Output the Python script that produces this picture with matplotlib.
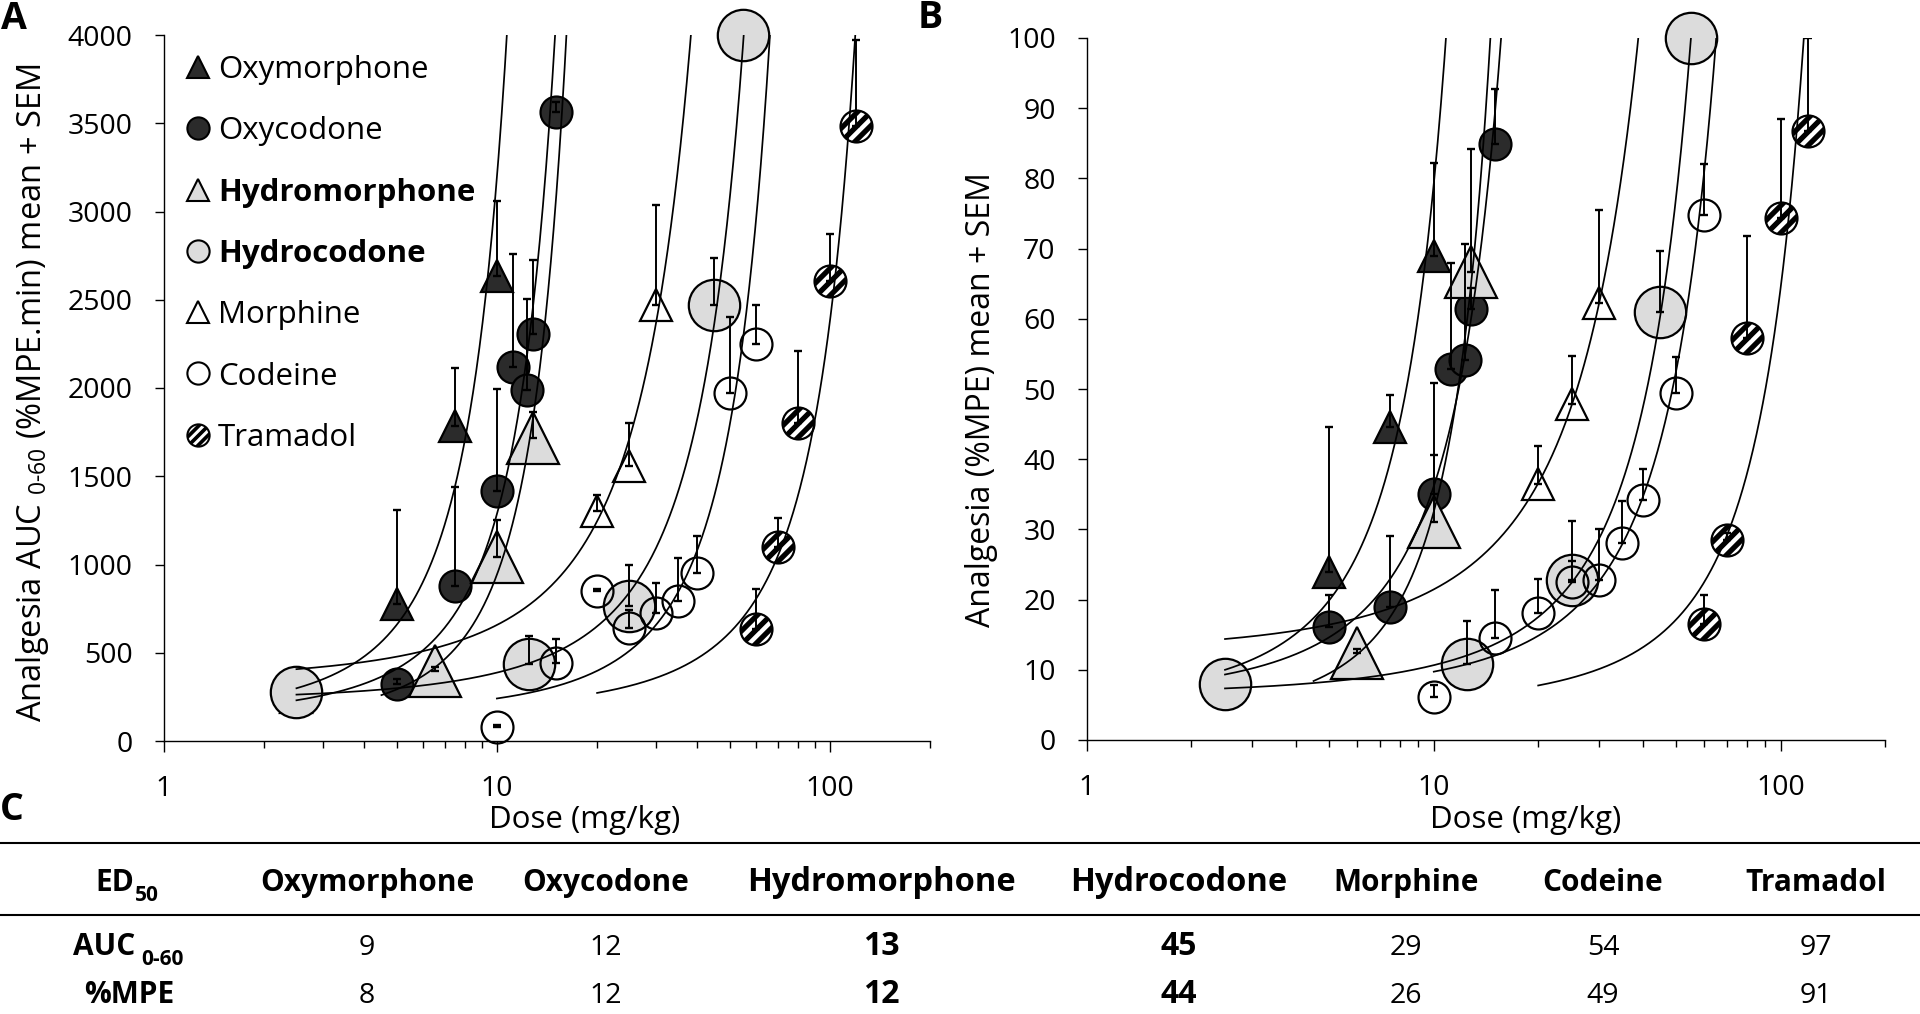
import numpy as np
import matplotlib
matplotlib.use("Agg")
import matplotlib.pyplot as plt
from matplotlib.lines import Line2D
from matplotlib.path import Path
from matplotlib.ticker import FixedLocator, FuncFormatter, NullFormatter, MultipleLocator

plt.rcParams['font.family'] = ['Open Sans', 'DejaVu Sans']
plt.rcParams['mathtext.fontset'] = 'custom'
plt.rcParams['mathtext.rm'] = 'Open Sans'
plt.rcParams['mathtext.it'] = 'Open Sans:italic'
plt.rcParams['mathtext.bf'] = 'Open Sans:bold'

W, H = 1920, 1014
fig = plt.figure(figsize=(W / 100, H / 100), dpi=100)


def fx(px):
    return px / W


def fy(py):
    return 1 - py / H


# ---------------- data ----------------
drugs = ['Oxymorphone', 'Oxycodone', 'Hydromorphone', 'Hydrocodone',
         'Morphine', 'Codeine', 'Tramadol']

oxymorphone_dose = [2.5, 5, 7.5, 10]
oxymorphone_auc = [250, 775, 1785, 2632]
oxymorphone_auc_sem = [0, 535, 330, 425]
oxymorphone_mpe = [8.5, 24.0, 44.6, 69.0]
oxymorphone_mpe_sem = [0, 20.6, 4.5, 13.2]

oxycodone_dose = [5, 7.5, 10, 11.2, 12.3, 12.8, 15]
oxycodone_auc = [321, 879, 1418, 2118, 1986, 2306, 3562]
oxycodone_auc_sem = [30, 558, 575, 641, 519, 418, 60]
oxycodone_mpe = [16.1, 19.0, 35.1, 52.8, 54.2, 61.4, 84.9]
oxycodone_mpe_sem = [4.5, 10.0, 15.7, 15.1, 16.4, 3.0, 7.8]

hydromorphone_dose_auc = [6.5, 10, 12.8]
hydromorphone_auc = [397, 1042, 1715]
hydromorphone_auc_sem = [20, 210, 150]
hydromorphone_dose_mpe = [6.0, 10, 12.8]
hydromorphone_mpe = [12.4, 31.0, 66.7]
hydromorphone_mpe_sem = [0.5, 9.6, 17.5]

hydrocodone_dose = [2.5, 12.5, 25, 45, 55]
hydrocodone_auc = [278, 435, 766, 2472, 4000]
hydrocodone_auc_sem = [0, 161, 231, 264, 0]
hydrocodone_mpe = [7.95, 10.8, 22.8, 61.0, 100]
hydrocodone_mpe_sem = [0, 6.2, 8.4, 8.6, 0]

morphine_dose = [20, 25, 30]
morphine_auc = [1305, 1560, 2472]
morphine_auc_sem = [90, 240, 563]
morphine_mpe = [36.5, 47.9, 62.2]
morphine_mpe_sem = [5.4, 6.8, 13.3]

codeine_dose = [10, 15, 20, 25, 30, 35, 40, 50, 60]
codeine_auc = [81, 441, 851, 643, 728, 792, 951, 1972, 2250]
codeine_auc_sem = [10, 136, 10, 100, 170, 243, 209, 430, 222]
codeine_mpe = [6.1, 14.6, 18.1, 22.5, 22.8, 28.0, 34.2, 49.5, 74.8]
codeine_mpe_sem = [1.7, 6.8, 4.8, 3.0, 7.2, 6.0, 4.4, 5.1, 7.3]

tramadol_dose = [60, 70, 80, 100, 120]
tramadol_auc = [632, 1097, 1799, 2604, 3486]
tramadol_auc_sem = [229, 167, 409, 266, 484]
tramadol_mpe = [16.5, 28.5, 57.2, 74.4, 86.8]
tramadol_mpe_sem = [4.1, 1.0, 14.6, 14.1, 13.2]

# dose where each fitted exponential trendline begins
trend_start = [2.5, 2.5, 4.5, 2.5, 2.5, 10, 20]

# table C
ed50_auc = [9, 12, 13, 45, 29, 54, 97]
ed50_mpe = [8, 12, 12, 44, 26, 49, 91]
highlight = [False, False, True, True, False, False, False]


# ---------------- styles ----------------
def stripe_path(centers=(-0.62, 0.0, 0.62), half=0.17, n=40):
    """Diagonal '/' stripes inside a unit circle, as a marker path."""
    verts, codes = [], []
    for c in centers:
        us = np.linspace(max(c - half, -0.999), min(c + half, 0.999), n)
        vs = np.sqrt(1 - us ** 2)
        pu = np.concatenate([us, us[::-1]])
        pv = np.concatenate([vs, -vs[::-1]])
        xs = (pu + pv) / np.sqrt(2)
        ys = (pv - pu) / np.sqrt(2)
        pts = list(zip(xs, ys))
        verts += pts + [pts[0]]
        codes += [Path.MOVETO] + [Path.LINETO] * (len(pts) - 1) + [Path.CLOSEPOLY]
    for p in [(1, 0), (-1, 0), (0, 1), (0, -1)]:  # fix normalisation extent
        verts += [p, p]
        codes += [Path.MOVETO, Path.LINETO]
    return Path(verts, codes)


STRIPES = stripe_path()
DARK = '#2b2b2b'
LIGHT = '#dcdcdc'
styles = [
    dict(marker='^', ms=23, mfc=DARK),
    dict(marker='o', ms=23, mfc=DARK),
    dict(marker='^', ms=37, mfc=LIGHT),
    dict(marker='o', ms=37, mfc=LIGHT),
    dict(marker='^', ms=23, mfc='none'),
    dict(marker='o', ms=23, mfc='none'),
    dict(marker='o', ms=23, mfc='white', stripes=True),
]

auc_series = [
    (oxymorphone_dose, oxymorphone_auc, oxymorphone_auc_sem),
    (oxycodone_dose, oxycodone_auc, oxycodone_auc_sem),
    (hydromorphone_dose_auc, hydromorphone_auc, hydromorphone_auc_sem),
    (hydrocodone_dose, hydrocodone_auc, hydrocodone_auc_sem),
    (morphine_dose, morphine_auc, morphine_auc_sem),
    (codeine_dose, codeine_auc, codeine_auc_sem),
    (tramadol_dose, tramadol_auc, tramadol_auc_sem),
]
mpe_series = [
    (oxymorphone_dose, oxymorphone_mpe, oxymorphone_mpe_sem),
    (oxycodone_dose, oxycodone_mpe, oxycodone_mpe_sem),
    (hydromorphone_dose_mpe, hydromorphone_mpe, hydromorphone_mpe_sem),
    (hydrocodone_dose, hydrocodone_mpe, hydrocodone_mpe_sem),
    (morphine_dose, morphine_mpe, morphine_mpe_sem),
    (codeine_dose, codeine_mpe, codeine_mpe_sem),
    (tramadol_dose, tramadol_mpe, tramadol_mpe_sem),
]

TICK_FS = 20.5


def plot_markers(ax, x, y, st, ms, mew, z, **kw):
    if st.get('stripes'):
        ax.plot(x, y, linestyle='none', marker='o', ms=ms, mfc='white', mec='none',
                zorder=z, clip_on=False, **kw)
        ax.plot(x, y, linestyle='none', marker=STRIPES, ms=ms * 0.97, mfc='black',
                mec='none', mew=0, zorder=z + 0.001, clip_on=False, **kw)
        ax.plot(x, y, linestyle='none', marker='o', ms=ms, mfc='none', mec='black',
                mew=mew, zorder=z + 0.002, clip_on=False, **kw)
    else:
        ax.plot(x, y, linestyle='none', marker=st['marker'], ms=ms, mfc=st['mfc'],
                mec='black', mew=mew, zorder=z, clip_on=False, **kw)


def draw_panel(ax, series, ymax, ystep):
    ax.set_xscale('log')
    for i, ((dose, vals, sem), st) in enumerate(zip(series, styles)):
        dose = np.asarray(dose, float)
        vals = np.asarray(vals, float)
        sem = np.asarray(sem, float)
        plot_markers(ax, dose, vals, st, st['ms'], 1.6, 3 + 0.01 * i)
        m = sem > 0
        if m.any():
            ax.errorbar(dose[m], vals[m], yerr=[np.zeros(m.sum()), sem[m]], fmt='none',
                        ecolor='black', elinewidth=1.4, capsize=3.2, capthick=1.7,
                        zorder=4)
        b, a = np.polyfit(dose, np.log(vals), 1)
        xs = np.geomspace(trend_start[i], 200, 600)
        ax.plot(xs, np.exp(a + b * xs), color='black', lw=1.25, zorder=5)

    ax.set_xlim(1, 200)
    ax.set_ylim(0, ymax)
    ax.xaxis.set_major_locator(FixedLocator([1, 10, 100]))
    ax.xaxis.set_major_formatter(FuncFormatter(lambda v, p: f'{v:g}'))
    minors = [k * 10 ** e for e in (0, 1) for k in range(2, 10)] + [200]
    ax.xaxis.set_minor_locator(FixedLocator(minors))
    ax.xaxis.set_minor_formatter(NullFormatter())
    ax.yaxis.set_major_locator(MultipleLocator(ystep))
    ax.yaxis.set_minor_locator(FixedLocator([]))
    for s in ('top', 'right'):
        ax.spines[s].set_visible(False)
    for s in ('left', 'bottom'):
        ax.spines[s].set_linewidth(1.0)
    ax.tick_params(axis='y', which='major', direction='out', length=6.5, width=1.0,
                   pad=16, labelsize=TICK_FS)
    ax.tick_params(axis='x', which='major', direction='out', length=8, width=1.0,
                   pad=16.5, labelsize=TICK_FS)
    ax.tick_params(axis='x', which='minor', direction='out', length=5, width=1.0)


axA = fig.add_axes([fx(164), fy(741), (930 - 164) / W, (741 - 35) / H])
axB = fig.add_axes([fx(1087), fy(740), (1885 - 1087) / W, (740 - 38) / H])
draw_panel(axA, auc_series, 4000, 500)
draw_panel(axB, mpe_series, 100, 10)

# axis labels
fig.text(fx(33), fy(393), r'Analgesia AUC $_{\text{0-60}}$ (%MPE.min) mean + SEM',
         rotation=90, ha='center', va='center', fontsize=23.5)
fig.text(fx(982), fy(400), 'Analgesia (%MPE) mean + SEM',
         rotation=90, ha='center', va='center', fontsize=23)
fig.text(fx(585), fy(820), 'Dose (mg/kg)', ha='center', va='center', fontsize=22.5)
fig.text(fx(1526), fy(820), 'Dose (mg/kg)', ha='center', va='center', fontsize=22.5)

# panel letters
fig.text(fx(14), fy(19), 'A', ha='center', va='center', fontsize=27, fontweight='bold')
fig.text(fx(930), fy(18), 'B', ha='center', va='center', fontsize=27, fontweight='bold')
fig.text(fx(12), fy(810), 'C', ha='center', va='center', fontsize=27, fontweight='bold')

# legend (panel A)
LEG_FS = 22.5
for i, (name, st) in enumerate(zip(drugs, styles)):
    py = 67 + i * 61.3
    plot_markers(axA, [fx(198)], [fy(py)], st, 16, 1.5, 6, transform=fig.transFigure)
    fig.text(fx(218), fy(py + 0.357 * LEG_FS * 100 / 72), name, ha='left', va='baseline',
             fontsize=LEG_FS, fontweight='bold' if highlight[i] else 'normal')

# ---------------- table C ----------------
fig.add_artist(Line2D([0, 1], [fy(843), fy(843)], transform=fig.transFigure,
                      color='black', lw=1.5))
fig.add_artist(Line2D([0, 1], [fy(915), fy(915)], transform=fig.transFigure,
                      color='black', lw=1.5))
col_x = [367, 606, 881, 1179, 1406, 1603, 1816]
ROW_HEAD, ROW_AUC, ROW_MPE = 891, 955, 1003
for j, name in enumerate(drugs):
    hl = highlight[j]
    fig.text(fx(col_x[j]), fy(ROW_HEAD), name, ha='center', va='baseline',
             fontsize=23.5 if hl else 21.5, fontweight='bold')
    fig.text(fx(col_x[j]), fy(ROW_AUC), str(ed50_auc[j]), ha='center', va='baseline',
             fontsize=23 if hl else 20.5, fontweight='bold' if hl else 'normal')
    fig.text(fx(col_x[j]), fy(ROW_MPE), str(ed50_mpe[j]), ha='center', va='baseline',
             fontsize=23 if hl else 20.5, fontweight='bold' if hl else 'normal')

renderer = fig.canvas.get_renderer()


def label_with_sub(xc, base_y, main, sub, size, subsize, sub_dy, gap):
    t1 = fig.text(0, fy(base_y), main, fontsize=size, fontweight='bold',
                  ha='left', va='baseline')
    w1 = t1.get_window_extent(renderer).width
    t2 = None
    w2 = 0
    if sub:
        t2 = fig.text(0, fy(base_y + sub_dy), sub, fontsize=subsize, fontweight='bold',
                      ha='left', va='baseline')
        w2 = t2.get_window_extent(renderer).width + gap
    x0 = xc - (w1 + w2) / 2
    t1.set_x(fx(x0))
    if t2 is not None:
        t2.set_x(fx(x0 + w1 + gap))


label_with_sub(127, ROW_HEAD, 'ED', '50', 21.5, 15, 10, 0)
label_with_sub(128, ROW_AUC, 'AUC', '0-60', 21.5, 15, 10, 6)
label_with_sub(129, ROW_MPE, '%MPE', None, 21.5, 15, 0, 0)

fig.savefig('out.png', dpi=100)
